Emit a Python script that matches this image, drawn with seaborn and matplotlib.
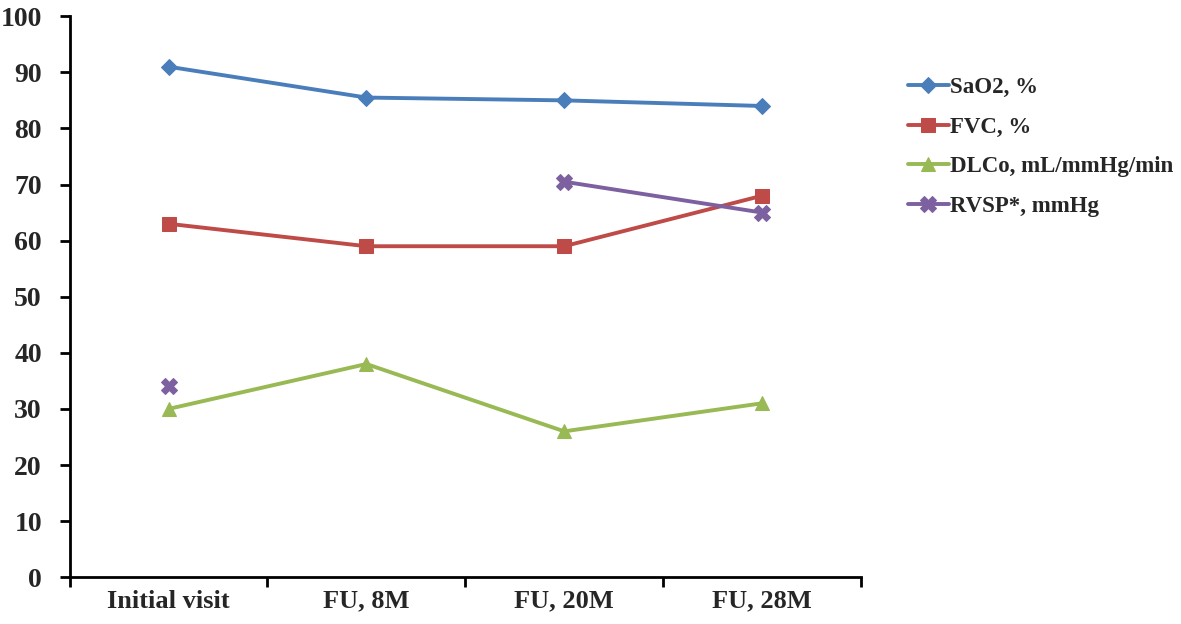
import numpy as np
import pandas as pd
import seaborn as sns
import matplotlib.pyplot as plt
from matplotlib.ticker import FixedLocator

visits = ["Initial visit", "FU, 8M", "FU, 20M", "FU, 28M"]
sao2 = [91, 85.5, 85, 84]
fvc = [63, 59, 59, 68]
dlco = [30, 38, 26, 31]
rvsp = [34, np.nan, 70.5, 65]

series = [
    ("SaO2, %", sao2, "#4A7EBB", "D", 8.5),
    ("FVC, %", fvc, "#BE4B48", "s", 9.5),
    ("DLCo, mL/mmHg/min", dlco, "#98B954", "^", 10.5),
    ("RVSP*, mmHg", rvsp, "#7D60A0", "X", 11.5),
]

sns.set_style("white")
plt.rcParams["font.family"] = ["Liberation Serif", "DejaVu Serif"]
plt.rcParams["font.weight"] = "bold"

fig = plt.figure(figsize=(11.81, 6.24), dpi=100)
ax = fig.add_axes([0.059, 0.075, 0.67, 0.899])

for name, vals, col, mk, ms in series:
    df = pd.DataFrame({"x": np.arange(len(visits)), "y": vals})
    # split into runs without gaps so missing visits break the line
    seg = df["y"].isna().cumsum()
    df = df.assign(seg=seg).dropna()
    first = True
    for _, part in df.groupby("seg"):
        sns.lineplot(data=part, x="x", y="y", ax=ax, color=col, marker=mk,
                     markersize=ms, markeredgecolor=col, linewidth=2.8,
                     label=name if first else None, legend=False)
        first = False

ax.set_xlim(-0.5, 3.5)
ax.set_ylim(0, 100)
ax.set_yticks(range(0, 101, 10))
ax.set_xticks(range(len(visits)))
ax.set_xticklabels(visits)
ax.xaxis.set_minor_locator(FixedLocator(np.arange(-0.5, 3.6, 1)))
ax.tick_params(axis="x", which="major", bottom=True, length=0, pad=9, labelsize=19)
ax.tick_params(axis="x", which="minor", bottom=True, length=7, width=2, direction="out", color="black")
ax.tick_params(axis="y", left=True, length=7, width=2, direction="out", color="black", labelsize=20, pad=13)
for lab in ax.get_xticklabels() + ax.get_yticklabels():
    lab.set_fontweight("bold")
ax.set_xlabel("")
ax.set_ylabel("")
sns.despine(ax=ax)
for s in ["left", "bottom"]:
    ax.spines[s].set_color("black")
    ax.spines[s].set_linewidth(2)

handles, labels = ax.get_legend_handles_labels()
fig.legend(handles, labels, loc="upper left", bbox_to_anchor=(0.751, 0.91),
           frameon=False, prop={"weight": "bold", "size": 16.5},
           handlelength=1.8, handletextpad=0.05, labelspacing=0.82)

fig.savefig("out.png", dpi=100)
